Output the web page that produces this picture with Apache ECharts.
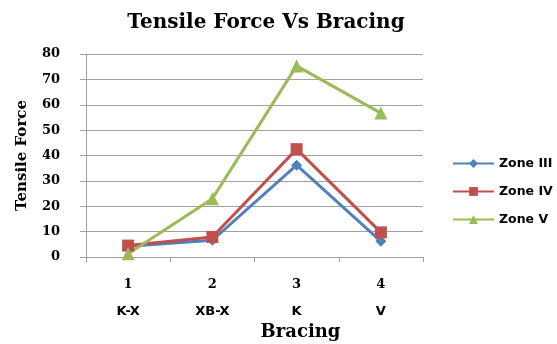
<!DOCTYPE html>
<html>
<head>
<meta charset="utf-8">
<script src="https://cdn.jsdelivr.net/npm/echarts@6/dist/echarts.min.js"></script>
<style>
  html, body { margin: 0; padding: 0; background: #fff; }
  #chart { width: 557px; height: 344px; }
</style>
</head>
<body>
<div id="chart"></div>
<script>
// Bracing types (numbered) and tensile force per seismic zone
const bracingNumbers = ['1', '2', '3', '4'];
const bracingTypes = ['K-X', 'XB-X', 'K', 'V'];
const zoneIII = [4.2, 6.6, 36.2, 6.2];
const zoneIV = [4.5, 7.9, 42.5, 9.7];
const zoneV = [1.3, 23.0, 75.3, 56.7];
const yTicks = [0, 10, 20, 30, 40, 50, 60, 70, 80];

const serif = '"DejaVu Serif", "Liberation Serif", serif';
const serifNum = '"DejaVu Serif", "Liberation Serif", serif';
const sans = '"DejaVu Sans", "Liberation Sans", sans-serif';

const chart = echarts.init(document.getElementById('chart'));

function zone(name, data, color, symbol, size) {
  return {
    name: name,
    type: 'line',
    data: data,
    symbol: symbol,
    symbolSize: size,
    lineStyle: { color: color, width: 3 },
    itemStyle: { color: color },
    emphasis: { disabled: true },
    animation: false
  };
}

chart.setOption({
  animation: false,
  title: {
    text: 'Tensile Force Vs Bracing',
    left: 261,
    top: 8,
    textAlign: 'center',
    textStyle: { fontFamily: serif, fontWeight: 'bold', fontSize: 20, color: '#000' }
  },
  grid: { left: 86, right: 134, top: 54, bottom: 87, outerBoundsMode: 'none', containLabel: false },
  legend: {
    orient: 'vertical',
    left: 447,
    top: 152,
    itemWidth: 41,
    itemHeight: 11,
    itemGap: 15,
    textStyle: { fontFamily: sans, fontWeight: 'bold', fontSize: 12.5, color: '#000' },
    data: ['Zone III', 'Zone IV', 'Zone V']
  },
  xAxis: {
    type: 'category',
    data: bracingNumbers,
    boundaryGap: true,
    axisLine: { lineStyle: { color: '#a0a0a0', width: 1 } },
    axisTick: { show: true, length: 5, lineStyle: { color: '#a0a0a0' } },
    axisLabel: {
      margin: 14,
      formatter: function (v, i) {
        return '{n|' + v + '}\n{t|' + bracingTypes[i] + '}';
      },
      rich: {
        n: { fontFamily: serifNum, fontWeight: 'bold', fontSize: 13, color: '#000', lineHeight: 27 },
        t: { fontFamily: sans, fontWeight: 'bold', fontSize: 13, color: '#000', lineHeight: 27 }
      }
    },
    name: 'Bracing',
    nameLocation: 'middle',
    nameGap: 64,
    nameTextStyle: { fontFamily: serif, fontWeight: 'bold', fontSize: 18, color: '#000', padding: [0, 0, 0, 92] }
  },
  yAxis: {
    type: 'value',
    min: yTicks[0],
    max: yTicks[yTicks.length - 1],
    interval: 10,
    axisLine: { show: true, lineStyle: { color: '#a0a0a0', width: 1 } },
    axisTick: { show: true, length: 6, lineStyle: { color: '#a0a0a0' } },
    splitLine: { lineStyle: { color: '#a0a0a0', width: 1 } },
    axisLabel: {
      margin: 26,
      fontFamily: serifNum,
      fontWeight: 'bold',
      fontSize: 13,
      color: '#000'
    },
    name: 'Tensile Force',
    nameLocation: 'middle',
    nameGap: 56,
    nameTextStyle: { fontFamily: serif, fontWeight: 'bold', fontSize: 15, color: '#000' }
  },
  series: [
    zone('Zone III', zoneIII, '#4F81BD', 'diamond', 11),
    zone('Zone IV', zoneIV, '#C0504D', 'rect', 12),
    zone('Zone V', zoneV, '#9BBB59', 'triangle', 13)
  ]
});
</script>
</body>
</html>
